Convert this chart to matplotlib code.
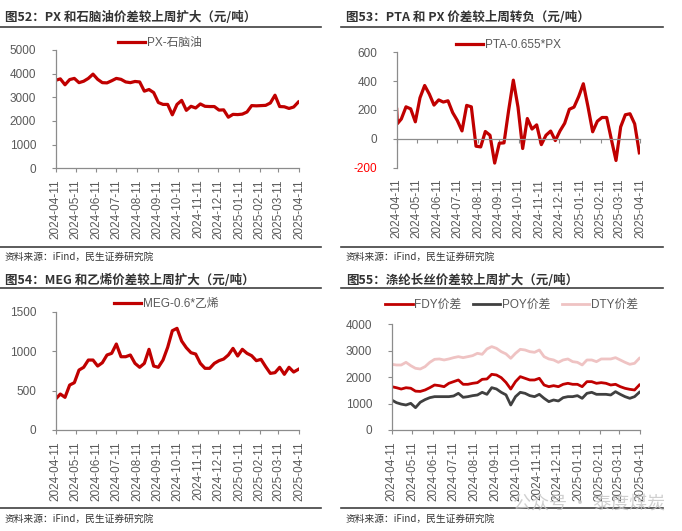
import matplotlib
matplotlib.use('Agg')
import matplotlib.pyplot as plt
import matplotlib.dates as mdates
from matplotlib.lines import Line2D
import pandas as pd

# ---------------- data ----------------
weeks = pd.date_range('2024-04-11', periods=53, freq='7D')
pta_dates = [pd.Timestamp('2024-04-11'), pd.Timestamp('2024-04-12')] + list(weeks[1:])

tick_labels = ['2024-04-11', '2024-05-11', '2024-06-11', '2024-07-11', '2024-08-11',
               '2024-09-11', '2024-10-11', '2024-11-11', '2024-12-11', '2025-01-11',
               '2025-02-11', '2025-03-11', '2025-04-11']

px_naphtha = [3720, 3780, 3530, 3750, 3800, 3620, 3680, 3800, 3980, 3760,
              3620, 3610, 3700, 3800, 3760, 3650, 3620, 3670, 3650, 3260,
              3330, 3200, 2780, 2700, 2700, 2260, 2700, 2870, 2450, 2620,
              2550, 2720, 2620, 2610, 2610, 2460, 2470, 2160, 2280, 2270,
              2290, 2380, 2650, 2640, 2650, 2660, 2760, 3090, 2610, 2600,
              2530, 2590, 2800]

pta_px = [205, 105, 138, 222, 208, 118, 285, 370, 310, 234, 270,
          255, 264, 182, 127, 55, 232, 222, -51, -56, 51,
          25, -168, -30, -28, 199, 407, 220, -67, 141, 68,
          97, -40, 25, 54, -12, 55, 108, 205, 220, 293,
          382, 222, 49, 122, 148, 148, -3, -150, 83, 167,
          174, 104, -97]

meg_ethylene = [393, 456, 414, 570, 600, 760, 795, 887, 887, 811,
                853, 951, 972, 1090, 929, 929, 951, 845, 795, 845,
                1023, 811, 795, 887, 1048, 1259, 1289, 1128, 1043, 980,
                963, 845, 782, 782, 845, 879, 900, 951, 1035, 938,
                1023, 972, 942, 879, 896, 803, 718, 727, 795, 706,
                795, 735, 769]

fdy = [1640, 1600, 1550, 1600, 1580, 1470, 1460, 1514, 1602, 1703,
       1678, 1640, 1767, 1830, 1893, 1729, 1729, 1767, 1792, 1918,
       1931, 2107, 2082, 1981, 1800, 1550, 1830, 2019, 1956, 1893,
       1893, 1956, 1703, 1640, 1678, 1640, 1729, 1767, 1729, 1729,
       1640, 1830, 1830, 1767, 1792, 1767, 1703, 1729, 1640, 1577,
       1539, 1514, 1703]

poy = [1136, 1035, 980, 946, 1009, 845, 1050, 1150, 1224, 1262,
       1262, 1262, 1262, 1287, 1388, 1237, 1262, 1300, 1325, 1426,
       1350, 1602, 1552, 1426, 1330, 946, 1262, 1426, 1388, 1300,
       1262, 1350, 1199, 1073, 1136, 1098, 1224, 1262, 1262, 1300,
       1199, 1388, 1426, 1350, 1350, 1350, 1325, 1451, 1350, 1262,
       1199, 1262, 1426]

dty = [2486, 2460, 2460, 2561, 2435, 2334, 2309, 2397, 2561, 2675,
       2688, 2650, 2688, 2738, 2776, 2738, 2776, 2814, 2902, 2864,
       3066, 3155, 3091, 2965, 2880, 2713, 2902, 3053, 3028, 2965,
       2940, 3028, 2776, 2688, 2650, 2561, 2650, 2688, 2587, 2561,
       2461, 2650, 2650, 2587, 2688, 2688, 2688, 2738, 2650, 2561,
       2486, 2524, 2713]

titles = ['图52：PX 和石脑油价差较上周扩大（元/吨）',
          '图53：PTA 和 PX 价差较上周转负（元/吨）',
          '图54：MEG 和乙烯价差较上周扩大（元/吨）',
          '图55：涤纶长丝价差较上周扩大（元/吨）']
source = '资料来源：iFind，民生证券研究院'

# ---------------- style ----------------
W, H = 682, 531
FONT = ['Liberation Sans', 'Noto Sans CJK SC']
CJK = ['Noto Sans CJK SC', 'DejaVu Sans']
plt.rcParams['font.family'] = FONT
RED = '#C00000'
GREY_TXT = '#595959'
SPINE = '#8C8C8C'
FS = 8.5

x_w = mdates.date2num(weeks)
x_pta = mdates.date2num(pta_dates)
x_ticks = mdates.date2num(pd.to_datetime(tick_labels))

fig = plt.figure(figsize=(W / 100, H / 100), dpi=100)


def px_axes(left, right, top, bottom):
    return fig.add_axes([left / W, 1 - bottom / H, (right - left) / W, (bottom - top) / H])


def style(ax, yticks, ylim):
    for s in ['top', 'right']:
        ax.spines[s].set_visible(False)
    for s in ['left', 'bottom']:
        ax.spines[s].set_color(SPINE)
        ax.spines[s].set_linewidth(0.9)
    ax.set_xlim(x_ticks[0], x_ticks[-1])
    ax.set_ylim(*ylim)
    ax.set_yticks(yticks)
    ax.set_yticklabels([str(v) for v in yticks])
    ax.set_xticks(x_ticks)
    ax.set_xticklabels(tick_labels, rotation=90)
    ax.tick_params(axis='y', direction='out', length=3, color=SPINE, labelcolor=GREY_TXT,
                   labelsize=FS, pad=11)
    ax.tick_params(axis='x', direction='out', length=3, color=SPINE, labelcolor=GREY_TXT,
                   labelsize=FS, pad=5)


def frame(x0, x1, y_title, y_top_line, y_bot_line, y_src, title):
    fig.text((x0 + 5) / W, 1 - y_title / H, title, ha='left', va='center',
             fontsize=9, fontweight='bold', color='#333333', family=CJK)
    for yy in (y_top_line, y_bot_line):
        fig.add_artist(Line2D([x0 / W, x1 / W], [1 - yy / H, 1 - yy / H],
                              transform=fig.transFigure, color='#404040', lw=1.2))
    fig.text((x0 + 5) / W, 1 - y_src / H, source, ha='left', va='center',
             fontsize=7, color='#333333', family=CJK)


# Panel 52
ax1 = px_axes(55.67, 299, 50, 168.3)
style(ax1, [0, 1000, 2000, 3000, 4000, 5000], (0, 5000))
ax1.plot(x_w, px_naphtha, color=RED, lw=2.3, label='PX-石脑油')
ax1.legend(loc='center left', bbox_to_anchor=(0.255, 1.06), frameon=False, fontsize=FS,
           handlelength=2.3, handletextpad=0.15, borderpad=0, borderaxespad=0,
           labelcolor=GREY_TXT)
frame(0, 321, 17.5, 26.7, 247.3, 257, titles[0])

# Panel 53
ax2 = px_axes(396.67, 640, 52.3, 167.7)
style(ax2, [-200, 0, 200, 400, 600], (-200, 600))
ax2.spines['bottom'].set_position(('data', 0))
ax2.tick_params(axis='x', labelbottom=False)
for lab, v in zip(ax2.get_yticklabels(), [-200, 0, 200, 400, 600]):
    if v < 0:
        lab.set_color('#FF0000')
sec = ax2.secondary_xaxis(0)
sec.set_xticks(x_ticks)
sec.set_xticklabels(tick_labels, rotation=90)
sec.tick_params(length=0, labelcolor=GREY_TXT, labelsize=FS, pad=8)
sec.spines['bottom'].set_visible(False)
ax2.plot(x_pta, pta_px, color=RED, lw=2.3, label='PTA-0.655*PX')
ax2.legend(loc='center left', bbox_to_anchor=(0.245, 1.065), frameon=False, fontsize=FS,
           handlelength=2.3, handletextpad=0.15, borderpad=0, borderaxespad=0,
           labelcolor=GREY_TXT)
frame(341, 663, 17.5, 26.7, 247.3, 257, titles[1])

# Panel 54
ax3 = px_axes(55.67, 299, 311.7, 430)
style(ax3, [0, 500, 1000, 1500], (0, 1500))
ax3.plot(x_w, meg_ethylene, color=RED, lw=2.3, label='MEG-0.6*乙烯')
ax3.legend(loc='center left', bbox_to_anchor=(0.24, 1.0625), frameon=False, fontsize=FS,
           handlelength=2.3, handletextpad=0.15, borderpad=0, borderaxespad=0,
           labelcolor=GREY_TXT)
frame(0, 321, 280, 287.7, 507.7, 519, titles[2])

# Panel 55
ax4 = px_axes(391.7, 640, 324.3, 430)
style(ax4, [0, 1000, 2000, 3000, 4000], (0, 4000))
ax4.plot(x_w, fdy, color=RED, lw=2.0, label='FDY价差')
ax4.plot(x_w, poy, color='#404040', lw=2.0, label='POY价差')
ax4.plot(x_w, dty, color='#EFC3C3', lw=2.0, label='DTY价差')
ax4.legend(loc='center left', bbox_to_anchor=(-0.025, 1.183), frameon=False, fontsize=FS,
           ncol=3, handlelength=2.3, handletextpad=0.15, columnspacing=1.0,
           borderpad=0, borderaxespad=0, labelcolor=GREY_TXT)
frame(341, 663, 280, 287.7, 507.7, 519, titles[3])

# watermark
fig.text(513 / W, 1 - 503 / H, '公众号 · 泰度煤炭', ha='left', va='center',
         fontsize=13, color='#C4C4C4', alpha=0.8, family=CJK)

fig.savefig('out.png', dpi=100)
